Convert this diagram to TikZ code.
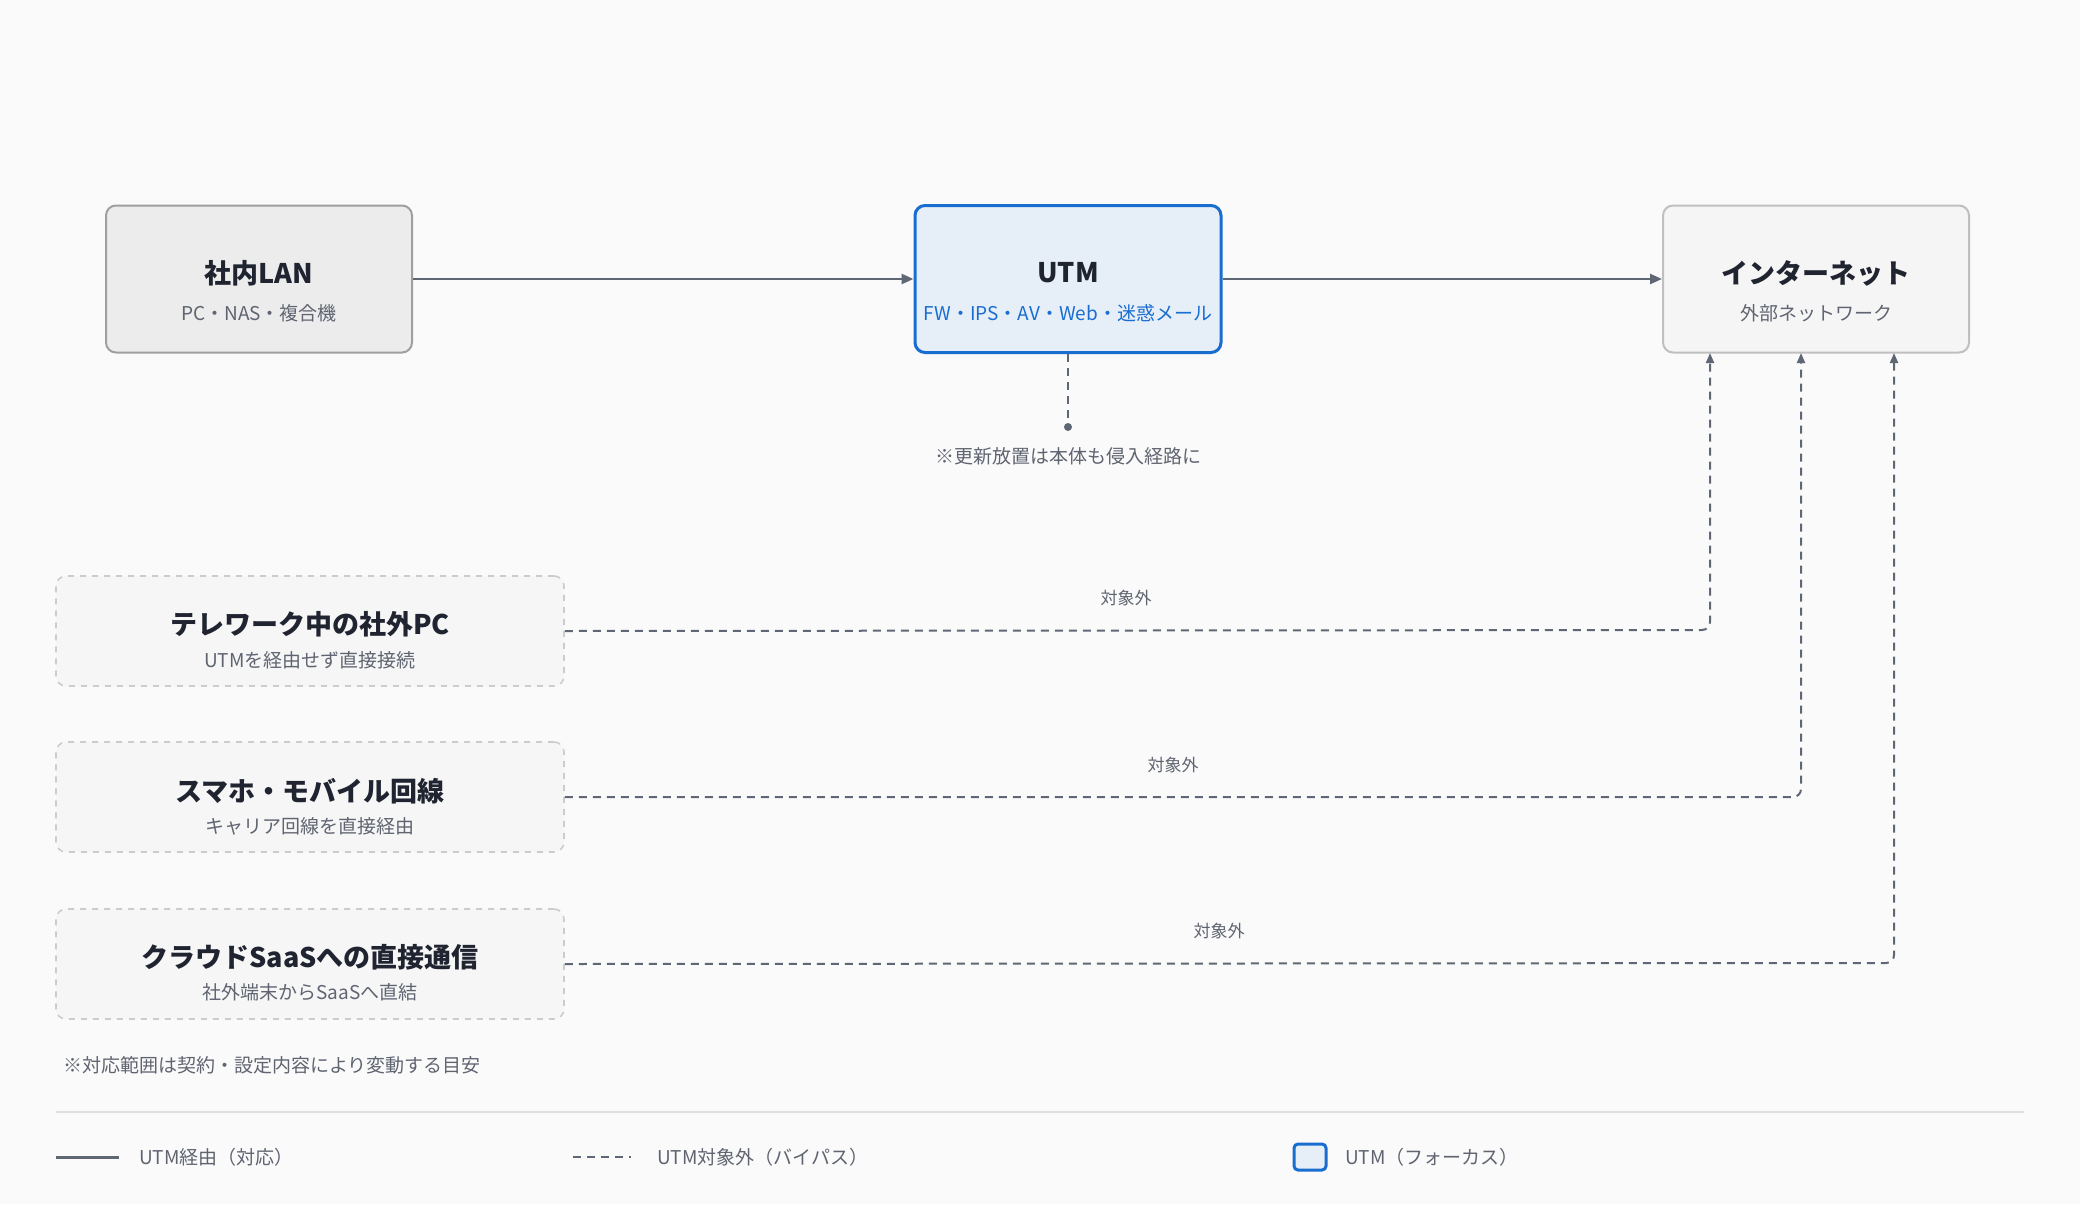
\documentclass[tikz,border=0pt]{standalone}
\usepackage{fontspec}
\setmainfont{Noto Sans CJK JP}
\usetikzlibrary{positioning,arrows.meta}
\definecolor{bgc}{HTML}{FAFAFA}
\definecolor{linec}{HTML}{5F6775}
\definecolor{txtc}{HTML}{1F2430}
\definecolor{subc}{HTML}{5F6470}
\definecolor{utmc}{HTML}{1A6DD0}
\definecolor{utmf}{HTML}{E6EFF8}
\begin{document}
\begin{tikzpicture}[x=0.5pt, y=-0.5pt,
	box/.style    = {draw, rounded corners=5pt, line width=1pt, minimum width=153pt, minimum height=73.5pt},
	bypass/.style = {draw=gray!40, dashed, fill=gray!7, rounded corners=5pt, line width=0.8pt, minimum width=254pt, minimum height=55pt},
	ttl/.style    = {font=\fontsize{13.5}{16}\selectfont\bfseries, text=txtc},
	sub/.style    = {font=\fontsize{9.5}{12}\selectfont, text=subc},
	via/.style    = {linec, line width=1.2pt, -{Triangle[length=6pt,width=5pt]}},
	skip/.style   = {linec, line width=1pt, dash pattern=on 4pt off 3pt, rounded corners=4pt, -{Triangle[length=5pt,width=4pt]}},
	tag/.style    = {font=\fontsize{8.5}{10}\selectfont, text=subc},
	]
	\fill[bgc] (0,0) rectangle (2080,1204);

	%% MAIN ROW
	\node[box, draw=gray!75, fill=gray!15] (lan) at (259,279) {};
	\node[ttl] at (259,273) {社内LAN};
	\node[sub] at (259,313) {PC・NAS・複合機};
	\node[box, draw=utmc, fill=utmf, line width=1.5pt] (utm) at (1068,279) {};
	\node[ttl] at (1068,273) {UTM};
	\node[sub, text=utmc] at (1068,313) {FW・IPS・AV・Web・迷惑メール};
	\node[box, draw=gray!50, fill=gray!8] (net) at (1816,279) {};
	\node[ttl] at (1816,273) {インターネット};
	\node[sub] at (1816,313) {外部ネットワーク};
	\draw[via] (lan) -- (utm);
	\draw[via] (utm) -- (net);

	% note under UTM
	\coordinate (pin) at (1068,427);
	\draw[linec, line width=1pt, dash pattern=on 4pt off 3pt] (utm.south) -- (pin);
	\fill[linec] (pin) circle (4);
	\node[sub] (note) at (1068,456) {※更新放置は本体も侵入経路に};

	%% BYPASS ROUTES
	\node[bypass] (tele) at (310,631) {};
	\node[ttl] at (310,624) {テレワーク中の社外PC};
	\node[sub] at (310,660) {UTMを経由せず直接接続};
	\node[bypass] (mob) at (310,797) {};
	\node[ttl] at (310,791) {スマホ・モバイル回線};
	\node[sub] at (310,826) {キャリア回線を直接経由};
	\node[bypass] (saas) at (310,964) {};
	\node[ttl] at (310,957) {クラウドSaaSへの直接通信};
	\node[sub] at (310,992) {社外端末からSaaSへ直結};
	\draw[skip] (tele.east) -- (1710,630) -- (1710,353);
	\draw[skip] (mob.east) -- (1801,797) -- (1801,353);
	\draw[skip] (saas.east) -- (1894,963) -- (1894,353);
	\node[tag] at (1126,598) {対象外};
	\node[tag] at (1173,765) {対象外};
	\node[tag] at (1219,931) {対象外};

	\node[sub, anchor=west] (foot) at (56,1065) {※対応範囲は契約・設定内容により変動する目安};
	\draw[gray!25, line width=1pt] (56,1112) -- (2024,1112);

	%% LEGEND
	\draw[linec, line width=1.5pt] (56,1157) -- (119,1157);
	\node[sub, anchor=west] at (132,1157) {UTM経由（対応）};
	\draw[linec, line width=1.2pt, dash pattern=on 4pt off 3pt] (573,1157) -- (631,1157);
	\node[sub, anchor=west] at (650,1157) {UTM対象外（バイパス）};
	\draw[utmc, fill=utmf, line width=1.5pt, rounded corners=2pt] (1294,1144) rectangle (1326,1170);
	\node[sub, anchor=west] at (1338,1157) {UTM（フォーカス）};
\end{tikzpicture}
\end{document}
